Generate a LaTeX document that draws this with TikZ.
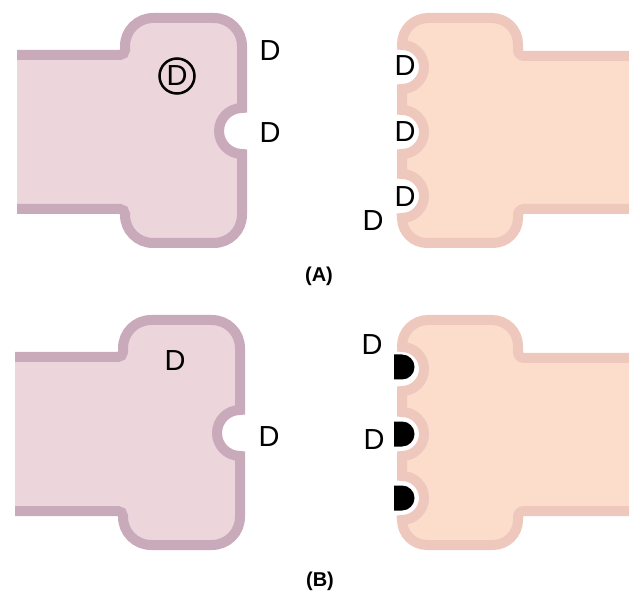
\documentclass[tikz,border=0pt]{standalone}
\usepackage{fontspec}
\setmainfont{Liberation Sans}
\usetikzlibrary{positioning}

\definecolor{lfill}{HTML}{EDD5DC}
\definecolor{lline}{HTML}{C8AABB}
\definecolor{rfill}{HTML}{FCDCCA}
\definecolor{rline}{HTML}{EEC8BC}

\begin{document}
\begin{tikzpicture}[x=1pt,y=-1pt,
  lbl/.style={font=\fontsize{29}{31}\selectfont,inner sep=0pt},
  panel/.style={font=\fontsize{20}{22}\selectfont\bfseries,inner sep=0pt},
  pics/leftpiece/.style={code={
    \path[fill=lfill,draw=lline,line width=10pt] (17,55) -- (120,55)
      arc[start angle=90,end angle=0,radius=5] -- (125,46)
      arc[start angle=180,end angle=270,radius=28] -- (214,18)
      arc[start angle=270,end angle=360,radius=28] -- (242,108)
      arc[start angle=270,end angle=90,radius=23] -- (242,215)
      arc[start angle=0,end angle=90,radius=28] -- (153,243)
      arc[start angle=90,end angle=180,radius=28] -- (125,214)
      arc[start angle=0,end angle=-90,radius=5] -- (17,209);
  }},
  pics/rightpiece/.style={code={
    \path[fill=rfill,draw=rline,line width=10pt] (629,56) -- (524,56)
      arc[start angle=90,end angle=180,radius=6] -- (518,44)
      arc[start angle=0,end angle=-90,radius=26] -- (428,18)
      arc[start angle=-90,end angle=-180,radius=26] -- (402,45)
      arc[start angle=-90,end angle=90,radius=22] -- (402,110)
      arc[start angle=-90,end angle=90,radius=22] -- (402,174)
      arc[start angle=-90,end angle=90,radius=22] -- (402,218)
      arc[start angle=180,end angle=90,radius=25] -- (493,243)
      arc[start angle=90,end angle=0,radius=25] -- (518,215)
      arc[start angle=180,end angle=270,radius=6] -- (629,209);
  }},
  plug/.style={fill=black}]
\useasboundingbox (0,0) rectangle (629,593);

% (A)
\pic at (0,0) {leftpiece};
\pic at (0,0) {rightpiece};
\node[lbl,draw,circle,line width=2.5pt,minimum size=35pt] (ca) at (177,76) {D};
\node[lbl] (ta) at (270,51) {D};
\node[lbl] (na) at (270,133) {D};
\node[lbl] (r1a) at (405,66) {D};
\node[lbl] (r2a) at (405,132) {D};
\node[lbl] (r3a) at (405,197) {D};
\node[lbl] (ba) at (373,221) {D};
\node[panel] (capa) at (319,276) {(A)};

% (B)
\pic at (-2,302) {leftpiece};
\pic at (0,302) {rightpiece};
\fill[plug] (394,354.5) -- (402,354.5) arc[start angle=-90,end angle=90,radius=12.5] -- (394,379.5) -- cycle;
\fill[plug] (394,421.5) -- (402,421.5) arc[start angle=-90,end angle=90,radius=12.5] -- (394,446.5) -- cycle;
\fill[plug] (394,485.5) -- (402,485.5) arc[start angle=-90,end angle=90,radius=12.5] -- (394,510.5) -- cycle;
\node[lbl] (tb) at (175,361) {D};
\node[lbl] (nb) at (269,437) {D};
\node[lbl] (r1b) at (372,345) {D};
\node[lbl] (r2b) at (374,440) {D};
\node[panel] (capb) at (320,581) {(B)};
\end{tikzpicture}
\end{document}
